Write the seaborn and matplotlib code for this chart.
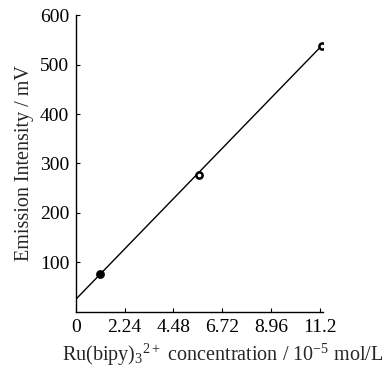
import matplotlib
matplotlib.use("Agg")
import matplotlib.pyplot as plt
import seaborn as sns
import pandas as pd

conc = [1.12, 5.65, 11.3]
intensity = [76, 276, 538]
marker_kind = ["filled", "open", "open"]
fit_x = [0.0, 11.3]
fit_y = [26, 538]
xticks = [0, 2.24, 4.48, 6.72, 8.96, 11.2]
xtick_labels = ["0", "2.24", "4.48", "6.72", "8.96", "11.2"]
yticks = [100, 200, 300, 400, 500, 600]

sns.set_style("ticks")
plt.rcParams['font.family'] = ['Liberation Serif', 'DejaVu Serif']
plt.rcParams['mathtext.fontset'] = 'custom'
plt.rcParams['mathtext.rm'] = 'Liberation Serif'
plt.rcParams['mathtext.it'] = 'Liberation Serif'

fig = plt.figure(figsize=(3.88, 3.67), dpi=100)
ax = fig.add_axes([0.196, 0.150, 0.636, 0.809])

sns.lineplot(x=fit_x, y=fit_y, ax=ax, color="black", linewidth=1.0)

pts = pd.DataFrame({"x": conc, "y": intensity, "k": marker_kind})
f = pts[pts.k == "filled"]
o = pts[pts.k == "open"]
sns.scatterplot(data=f, x="x", y="y", ax=ax, color="black", s=34, marker="o",
                edgecolor="black", zorder=3)
sns.scatterplot(data=o, x="x", y="y", ax=ax, facecolor="white", s=20, marker="o",
                edgecolor="black", linewidth=1.8, zorder=3)

ax.set_xlim(0, 11.35)
ax.set_ylim(0, 600)
ax.set_xticks(xticks)
ax.set_xticklabels(xtick_labels)
ax.set_yticks(yticks)
ax.tick_params(direction="in", length=3, width=0.8, labelsize=14, pad=5, colors="black")
for s in ["top", "right"]:
    ax.spines[s].set_visible(False)
for s in ["left", "bottom"]:
    ax.spines[s].set_linewidth(1.0)
    ax.spines[s].set_color("black")

ax.set_xlabel(r"Ru(bipy)$_{\mathregular{3}}$$^{\mathregular{2+}}$ concentration / 10$^{\mathregular{-5}}$ mol/L",
              fontsize=14.5)
ax.xaxis.set_label_coords(0.595, -0.1)
ax.set_ylabel("Emission Intensity / mV", fontsize=14.5, labelpad=4)

fig.savefig("out.png", dpi=100)
